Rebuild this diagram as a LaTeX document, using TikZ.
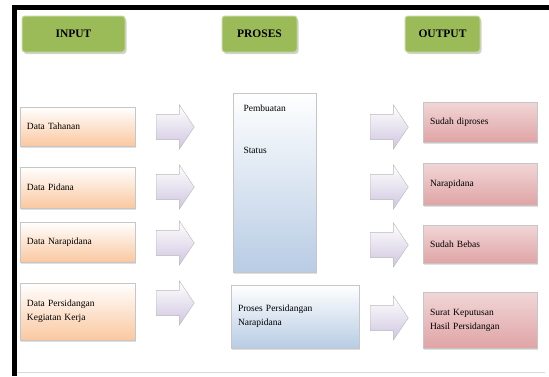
\documentclass[tikz,border=0pt]{standalone}
\usepackage{fontspec}
\setmainfont{Liberation Serif}
\usetikzlibrary{shapes.arrows,shadows,positioning}

\definecolor{hijau}{HTML}{9BBB59}
\definecolor{hijaumuda}{HTML}{C3D69B}
\definecolor{jingga}{HTML}{FAC8A0}
\definecolor{biru}{HTML}{B8CCE4}
\definecolor{merah}{HTML}{E0A4A6}
\definecolor{ungu}{HTML}{CFC6E0}

\tikzset{
    judul/.style = {draw = hijaumuda, line width = 1pt, fill = hijau, rounded corners = 3pt,
        minimum height = 36pt, font = \bfseries\fontsize{11.5}{13}\selectfont,
        drop shadow = {opacity = 0.35, shadow xshift = 1.5pt, shadow yshift = -2pt}},
    kotak/.style = {draw = gray!45, anchor = center, align = left, inner xsep = 7pt,
        font = \fontsize{9.5}{14}\selectfont,
        drop shadow = {opacity = 0.25, shadow xshift = 1pt, shadow yshift = -1.5pt}},
    masuk/.style = {kotak, top color = white, bottom color = jingga},
    proses/.style = {kotak, top color = white, bottom color = biru},
    keluar/.style = {kotak, top color = merah!45, bottom color = merah},
    panah/.style = {single arrow, draw = gray!55, top color = white, bottom color = ungu,
        minimum height = 38pt, minimum width = 44pt, inner xsep = 0pt, inner ysep = 12pt,
        single arrow head extend = 9pt, single arrow tip angle = 112}
}

\begin{document}
\begin{tikzpicture}[x = 1pt, y = -1pt]
        \useasboundingbox (0,0) rectangle (549,376);
        % bingkai
        \fill[black] (12,5) rectangle (17,376);
        \fill[black] (12,5) rectangle (549,10);
        \draw[gray!30] (17,372) -- (545,372);

        % judul kolom
        \node[judul, minimum width = 103pt] (input) at (73.5,34) {INPUT};
        \node[judul, minimum width = 75pt] (proses) at (259.5,34) {PROSES};
        \node[judul, minimum width = 75pt] (output) at (442.5,34) {OUTPUT};

        % kolom input
        \begin{scope}[every node/.append style = {masuk, text width = 101pt, minimum width = 115pt}]
            \foreach \teks/\y/\h/\i in {Data Tahanan/126.5/39/1, Data Pidana/187.5/41/2,
                Data Narapidana/242/40/3, {Data Persidangan\\Kegiatan Kerja}/311.5/57/4}
                \node[minimum height = \h pt] (in\i) at (77.5,\y) {\teks};
        \end{scope}

        % panah
        \foreach \y/\i in {127/1, 187/2, 243/3, 303/4}
            \node[panah] (pkiri\i) at (171,\y) {};
        \foreach \y/\i in {127/1, 187/2, 245/3, 318/4}
            \node[panah] (pkanan\i) at (385,\y) {};

        % kolom proses
        \node[proses, minimum width = 83pt, minimum height = 179pt] (status) at (274.5,182.5) {};
        \node[font = \fontsize{9.5}{11}\selectfont, anchor = west] (pembuatan) at (240,108) {Pembuatan};
        \node[font = \fontsize{9.5}{11}\selectfont, anchor = west] (tstatus) at (240,150) {Status};
        \node[proses, minimum width = 128pt, minimum height = 63pt, text width = 114pt]
            (sidang) at (295,316.5) {Proses Persidangan\\Narapidana};

        % kolom output
        \begin{scope}[every node/.append style = {keluar, text width = 100pt, minimum width = 114pt}]
            \foreach \teks/\y/\h/\i in {Sudah diproses/122/40/1, Narapidana/184/42/2,
                Sudah Bebas/244/38/3, {Surat Keputusan\\Hasil Persidangan}/320/56/4}
                \node[minimum height = \h pt] (out\i) at (480,\y) {\teks};
        \end{scope}
\end{tikzpicture}
\end{document}
